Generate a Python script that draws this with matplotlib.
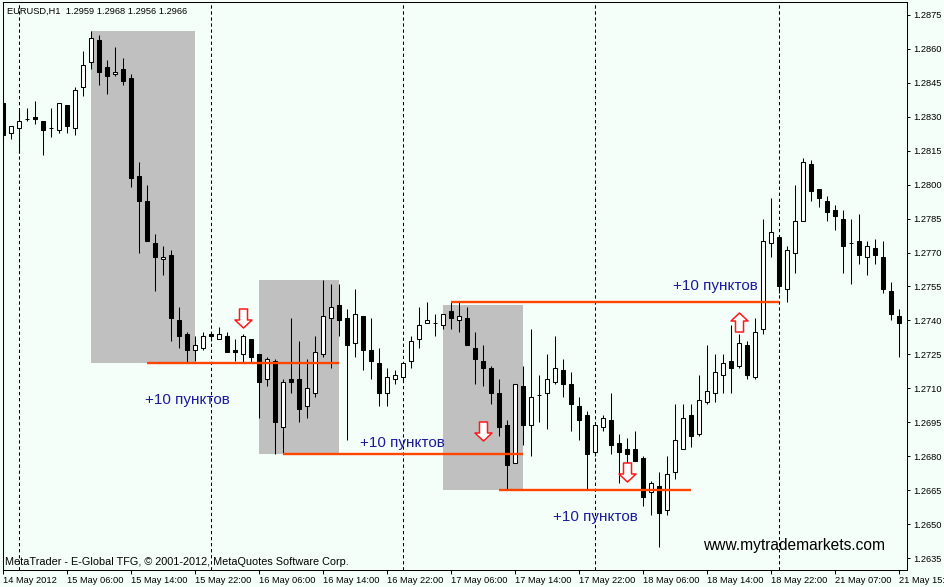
import numpy as np
import matplotlib
matplotlib.use('Agg')
import matplotlib.pyplot as plt
from matplotlib.path import Path
from matplotlib.patches import Rectangle

plt.rcParams['font.family'] = ['Liberation Sans', 'DejaVu Sans']

# EURUSD H1 bars, 14 May 2012 22:00 .. 21 May 2012 15:00
opens = [1.2836, 1.2823, 1.2825, 1.2829, 1.2830, 1.2828, 1.2825, 1.2824, 1.2835, 1.2825,
         1.2843, 1.2854, 1.2864, 1.2852, 1.2849, 1.2851, 1.2847, 1.2804, 1.2793, 1.2774,
         1.2767, 1.2769, 1.2740, 1.2734, 1.2727, 1.2728, 1.2734, 1.2732, 1.2733, 1.2727,
         1.2725, 1.2732, 1.2725, 1.2714, 1.2722, 1.2693, 1.2714, 1.2714, 1.2702, 1.2708,
         1.2725, 1.2741, 1.2747, 1.2741, 1.2730, 1.2742, 1.2727, 1.2721, 1.2708, 1.2714,
         1.2715, 1.2722, 1.2732, 1.2739, 1.2739, 1.2738, 1.2744, 1.2740, 1.2741, 1.2728,
         1.2722, 1.2719, 1.2708, 1.2694, 1.2677, 1.2711, 1.2694, 1.2707, 1.2708, 1.2713,
         1.2718, 1.2712, 1.2702, 1.2698, 1.2682, 1.2693, 1.2696, 1.2686, 1.2683, 1.2683,
         1.2679, 1.2664, 1.2667, 1.2656, 1.2673, 1.2683, 1.2698, 1.2690, 1.2704, 1.2708,
         1.2716, 1.2722, 1.2720, 1.2729, 1.2715, 1.2736, 1.2774, 1.2777, 1.2754, 1.2770,
         1.2784, 1.2809, 1.2798, 1.2793, 1.2789, 1.2785, 1.2774, 1.2775, 1.2768, 1.2772,
         1.2768, 1.2753, 1.2742]
highs = [1.2839, 1.2826, 1.2833, 1.2834, 1.2837, 1.2828, 1.2834, 1.2836, 1.2835, 1.2843,
         1.2859, 1.2868, 1.2866, 1.2855, 1.2861, 1.2856, 1.2849, 1.2810, 1.2800, 1.2778,
         1.2773, 1.2771, 1.2746, 1.2735, 1.2733, 1.2735, 1.2735, 1.2737, 1.2735, 1.2732,
         1.2734, 1.2732, 1.2725, 1.2724, 1.2723, 1.2714, 1.2741, 1.2731, 1.2723, 1.2733,
         1.2758, 1.2756, 1.2756, 1.2745, 1.2754, 1.2742, 1.2741, 1.2728, 1.2719, 1.2718,
         1.2721, 1.2733, 1.2746, 1.2748, 1.2743, 1.2743, 1.2748, 1.2748, 1.2746, 1.2735,
         1.2729, 1.2720, 1.2714, 1.2696, 1.2712, 1.2720, 1.2736, 1.2716, 1.2725, 1.2733,
         1.2723, 1.2717, 1.2706, 1.2700, 1.2695, 1.2698, 1.2708, 1.2690, 1.2688, 1.2691,
         1.2680, 1.2669, 1.2673, 1.2680, 1.2703, 1.2703, 1.2703, 1.2716, 1.2729, 1.2725,
         1.2725, 1.2738, 1.2734, 1.2731, 1.2741, 1.2785, 1.2794, 1.2777, 1.2773, 1.2800,
         1.2812, 1.2811, 1.2798, 1.2795, 1.2791, 1.2789, 1.2785, 1.2787, 1.2775, 1.2776,
         1.2775, 1.2757, 1.2745]
lows = [1.2820, 1.2820, 1.2814, 1.2828, 1.2827, 1.2813, 1.2821, 1.2823, 1.2823, 1.2822,
        1.2839, 1.2851, 1.2844, 1.2840, 1.2848, 1.2844, 1.2799, 1.2770, 1.2775, 1.2753,
        1.2760, 1.2731, 1.2728, 1.2721, 1.2722, 1.2727, 1.2731, 1.2732, 1.2726, 1.2722,
        1.2721, 1.2721, 1.2697, 1.2711, 1.2681, 1.2681, 1.2708, 1.2695, 1.2697, 1.2706,
        1.2724, 1.2719, 1.2733, 1.2687, 1.2724, 1.2718, 1.2714, 1.2702, 1.2702, 1.2712,
        1.2713, 1.2719, 1.2728, 1.2739, 1.2733, 1.2736, 1.2736, 1.2735, 1.2729, 1.2712,
        1.2711, 1.2703, 1.2689, 1.2665, 1.2677, 1.2685, 1.2680, 1.2695, 1.2692, 1.2712,
        1.2706, 1.2691, 1.2687, 1.2665, 1.2680, 1.2691, 1.2681, 1.2668, 1.2675, 1.2678,
        1.2658, 1.2654, 1.2640, 1.2654, 1.2670, 1.2683, 1.2684, 1.2689, 1.2703, 1.2704,
        1.2708, 1.2708, 1.2719, 1.2714, 1.2714, 1.2734, 1.2768, 1.2752, 1.2748, 1.2761,
        1.2784, 1.2793, 1.2790, 1.2784, 1.2780, 1.2761, 1.2756, 1.2765, 1.2760, 1.2765,
        1.2752, 1.2740, 1.2724]
closes = [1.2822, 1.2826, 1.2828, 1.2829, 1.2829, 1.2824, 1.2825, 1.2836, 1.2826, 1.2842,
          1.2853, 1.2865, 1.2850, 1.2848, 1.2850, 1.2846, 1.2803, 1.2793, 1.2775, 1.2768,
          1.2768, 1.2741, 1.2733, 1.2727, 1.2729, 1.2733, 1.2733, 1.2734, 1.2726, 1.2726,
          1.2733, 1.2724, 1.2713, 1.2723, 1.2695, 1.2713, 1.2713, 1.2701, 1.2710, 1.2726,
          1.2742, 1.2746, 1.2740, 1.2729, 1.2743, 1.2727, 1.2722, 1.2708, 1.2715, 1.2716,
          1.2721, 1.2731, 1.2738, 1.2740, 1.2739, 1.2743, 1.2741, 1.2742, 1.2729, 1.2723,
          1.2719, 1.2708, 1.2693, 1.2676, 1.2712, 1.2694, 1.2706, 1.2707, 1.2714, 1.2719,
          1.2712, 1.2703, 1.2696, 1.2681, 1.2694, 1.2697, 1.2685, 1.2682, 1.2681, 1.2678,
          1.2662, 1.2668, 1.2655, 1.2672, 1.2687, 1.2697, 1.2689, 1.2705, 1.2709, 1.2717,
          1.2721, 1.2719, 1.2730, 1.2716, 1.2735, 1.2775, 1.2779, 1.2755, 1.2771, 1.2784,
          1.2810, 1.2797, 1.2794, 1.2788, 1.2786, 1.2773, 1.2774, 1.2769, 1.2773, 1.2769,
          1.2754, 1.2743, 1.2739]

time_labels = ['14 May 2012', '15 May 06:00', '15 May 14:00', '15 May 22:00', '16 May 06:00',
               '16 May 14:00', '16 May 22:00', '17 May 06:00', '17 May 14:00', '17 May 22:00',
               '18 May 06:00', '18 May 14:00', '18 May 22:00', '21 May 07:00', '21 May 15:00']
day_starts = [2, 26, 50, 74, 97]
price_labels = [1.2875, 1.2860, 1.2845, 1.2830, 1.2815, 1.2800, 1.2785, 1.2770, 1.2755,
                1.2740, 1.2725, 1.2710, 1.2695, 1.2680, 1.2665, 1.2650, 1.2635]

# shaded ranges
box_first = [11, 32, 55]
box_last = [24, 42, 65]
box_high = [1.2868, 1.2758, 1.2747]
box_low = [1.2721, 1.2681, 1.2665]

# +10 pip levels
level_first = [18, 35, 62, 56]
level_last = [42, 65, 86, 97]
level_price = [1.2721, 1.2681, 1.2665, 1.2748]

arrow_bar = [30, 60, 78, 92]
arrow_price = [1.2741, 1.2691, 1.2673, 1.27395]
arrow_down = [True, True, True, False]

note_bar = [17.75, 44.6, 68.75, 83.75]
note_price = [1.2705, 1.2686, 1.2653, 1.2755]

bg = '#f5fffa'
fig = plt.figure(figsize=(9.45, 5.87), dpi=100, facecolor=bg)
ax = fig.add_axes([0.00286, 0.02896, 0.95693, 0.96712], facecolor=bg)

x = np.arange(len(opens))
o = np.array(opens)
c = np.array(closes)
up = c >= o

for a, b, top, bot in zip(box_first, box_last, box_high, box_low):
    ax.add_patch(Rectangle((a, bot), b - a, top - bot, facecolor='#c0c0c0', lw=0, zorder=1))

for d in day_starts:
    ax.axvline(d, color='black', lw=0.75, ls=(0, (3.2, 2.6)), zorder=2)

ax.vlines(x, lows, highs, color='black', lw=0.75, zorder=3)
ax.bar(x[up], (c - o)[up], bottom=o[up], width=0.55, facecolor='white',
       edgecolor='black', lw=0.75, zorder=4)
ax.bar(x[~up], (c - o)[~up], bottom=o[~up], width=0.55, facecolor='black',
       edgecolor='black', lw=0.75, zorder=4)

ax.hlines(level_price, level_first, level_last, color='#ff4500', lw=1.7, zorder=5)

down_verts = [(-4, 9.5), (4, 9.5), (4, -1.5), (8.5, -1.5), (0, -9.5), (-8.5, -1.5), (-4, -1.5), (-4, 9.5)]
down_arrow = Path(down_verts, closed=True)
up_arrow = Path([(vx, -vy) for vx, vy in down_verts], closed=True)
for bx, py, dn in zip(arrow_bar, arrow_price, arrow_down):
    ax.plot(bx, py, marker=down_arrow if dn else up_arrow, markersize=13.7,
            mfc='white', mec='#ff1a1a', mew=1.1, zorder=6)

for bx, py in zip(note_bar, note_price):
    ax.text(bx, py, '+10 пунктов', color='#1c1c9a', fontsize=11, ha='left', va='center', zorder=7)

ax.set_xlim(-0.04, 113.0)
ax.set_ylim(1.26297, 1.28806)

ax.set_xticks(np.arange(0, len(opens), 8))
ax.set_xticklabels(time_labels)
for lab in ax.get_xticklabels():
    lab.set_ha('left')
ax.yaxis.tick_right()
ax.set_yticks(price_labels)
ax.set_yticklabels(['%.4f' % p for p in price_labels])
ax.tick_params(axis='x', direction='out', length=2.6, width=0.72, pad=1.5, labelsize=6.7)
ax.tick_params(axis='y', direction='out', length=2.2, width=0.72, pad=2.2, labelsize=6.7)
for s in ax.spines.values():
    s.set_linewidth(0.75)

ax.text(0.0048, 0.9847, 'EURUSD,H1  1.2959 1.2968 1.2956 1.2966', transform=ax.transAxes,
        fontsize=6.7, ha='left', va='center')
ax.text(0.0025, 0.0141, 'MetaTrader - E-Global TFG, © 2001-2012, MetaQuotes Software Corp.',
        transform=ax.transAxes, fontsize=7.8, ha='left', va='center')
ax.text(0.7744, 0.044, 'www.mytrademarkets.com', transform=ax.transAxes,
        fontsize=11.2, ha='left', va='center', color='black')

fig.savefig('out.png', dpi=100, facecolor=bg)
